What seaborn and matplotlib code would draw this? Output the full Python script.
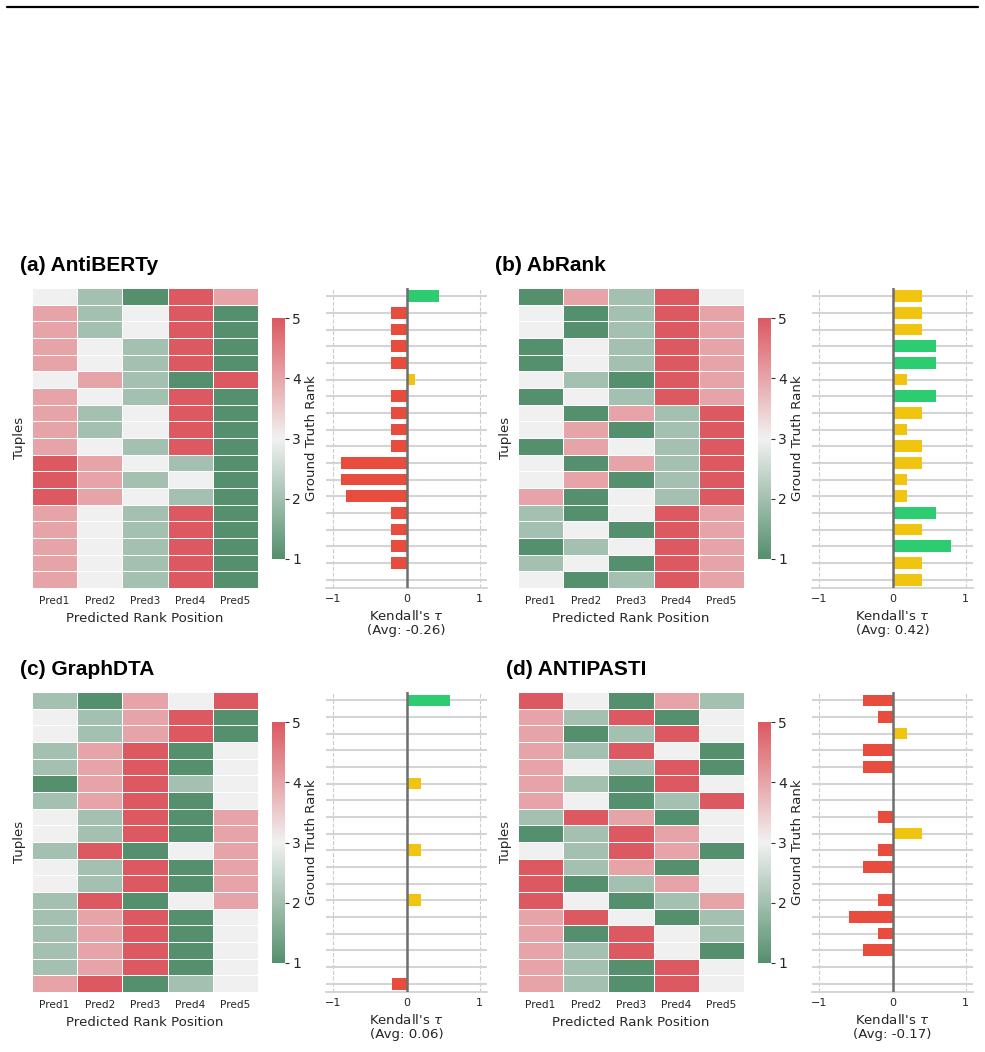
import numpy as np
import pandas as pd
import matplotlib.pyplot as plt
from matplotlib.lines import Line2D
import seaborn as sns

# ground-truth rank of the item placed at each predicted position (18 tuples x 5)
pred_labels = ["Pred1", "Pred2", "Pred3", "Pred4", "Pred5"]

antiberty_ranks = [
    [3, 2, 1, 5, 4], [4, 2, 3, 5, 1], [4, 2, 3, 5, 1], [4, 3, 2, 5, 1],
    [4, 3, 2, 5, 1], [3, 4, 2, 1, 5], [4, 3, 2, 5, 1], [4, 2, 3, 5, 1],
    [4, 2, 3, 5, 1], [4, 3, 2, 5, 1], [5, 4, 3, 2, 1], [5, 4, 2, 3, 1],
    [5, 4, 3, 2, 1], [4, 3, 2, 5, 1], [4, 3, 2, 5, 1], [4, 3, 2, 5, 1],
    [4, 3, 2, 5, 1], [4, 3, 2, 5, 1],
]
abrank_ranks = [
    [1, 4, 2, 5, 3], [3, 1, 2, 5, 4], [3, 1, 2, 5, 4], [1, 3, 2, 5, 4],
    [1, 3, 2, 5, 4], [3, 2, 1, 5, 4], [1, 3, 2, 5, 4], [3, 1, 4, 2, 5],
    [3, 4, 1, 2, 5], [1, 4, 3, 2, 5], [3, 1, 4, 2, 5], [3, 4, 1, 2, 5],
    [4, 1, 3, 2, 5], [2, 1, 3, 5, 4], [2, 3, 1, 5, 4], [1, 2, 3, 5, 4],
    [2, 3, 1, 5, 4], [3, 1, 2, 5, 4],
]
graphdta_ranks = [
    [2, 1, 4, 3, 5], [3, 2, 4, 5, 1], [3, 2, 4, 5, 1], [2, 4, 5, 1, 3],
    [2, 4, 5, 1, 3], [1, 4, 5, 2, 3], [2, 4, 5, 1, 3], [3, 2, 5, 1, 4],
    [3, 2, 5, 1, 4], [2, 5, 1, 3, 4], [3, 2, 5, 1, 4], [3, 2, 5, 1, 4],
    [2, 5, 1, 3, 4], [2, 4, 5, 1, 3], [2, 4, 5, 1, 3], [2, 4, 5, 1, 3],
    [2, 4, 5, 1, 3], [4, 5, 1, 2, 3],
]
antipasti_ranks = [
    [5, 3, 1, 4, 2], [4, 2, 5, 1, 3], [4, 1, 2, 5, 3], [4, 2, 5, 3, 1],
    [4, 3, 2, 5, 1], [4, 2, 1, 5, 3], [4, 3, 1, 2, 5], [2, 5, 4, 1, 3],
    [1, 2, 5, 4, 3], [3, 2, 5, 4, 1], [5, 2, 4, 1, 3], [5, 1, 2, 4, 3],
    [5, 3, 1, 2, 4], [4, 5, 3, 1, 2], [4, 1, 5, 3, 2], [4, 2, 5, 3, 1],
    [4, 2, 1, 5, 3], [4, 2, 1, 5, 3],
]

# Kendall's tau per tuple
antiberty_tau = [0.44, -0.21, -0.21, -0.21, -0.21, 0.11, -0.21, -0.21, -0.21,
                 -0.21, -0.89, -0.89, -0.83, -0.21, -0.21, -0.21, -0.21, 0.0]
abrank_tau = [0.4, 0.4, 0.4, 0.6, 0.6, 0.2, 0.6, 0.4, 0.2,
              0.4, 0.4, 0.2, 0.2, 0.6, 0.4, 0.8, 0.4, 0.4]
graphdta_tau = [0.6, 0.0, 0.0, 0.0, 0.0, 0.2, 0.0, 0.0, 0.0,
                0.2, 0.0, 0.0, 0.2, 0.0, 0.0, 0.0, 0.0, -0.2]
antipasti_tau = [-0.4, -0.2, 0.2, -0.4, -0.4, 0.0, 0.0, -0.2, 0.4,
                 -0.2, -0.4, 0.0, -0.2, -0.6, -0.2, -0.4, 0.0, 0.0]

titles = ["(a) AntiBERTy", "(b) AbRank", "(c) GraphDTA", "(d) ANTIPASTI"]
avg_labels = ["-0.26", "0.42", "0.06", "-0.17"]

sns.set_theme(style="whitegrid")
plt.rcParams["font.family"] = ["DejaVu Sans"]

W, H = 985, 1052
fig = plt.figure(figsize=(W / 100, H / 100), dpi=100)


def rect(x, y, w, h):
    # pixel box (from top-left) -> figure fraction
    return [x / W, 1 - (y + h) / H, w / W, h / H]


cmap = sns.blend_palette(["#548f6e", "#f1f1f1", "#dc5961"], as_cmap=True)

GREEN, YELLOW, RED = "#2ecc71", "#f1c40f", "#e74c3c"

panels = [
    (antiberty_ranks, antiberty_tau, 20, 32, 288),
    (abrank_ranks, abrank_tau, 495, 518, 288),
    (graphdta_ranks, graphdta_tau, 20, 32, 692),
    (antipasti_ranks, antipasti_tau, 506, 518, 692),
]

for i, (ranks, tau, tx, x0, y0) in enumerate(panels):
    # heatmap
    ax_h = fig.add_axes(rect(x0, y0, 226, 300))
    cax = fig.add_axes(rect(x0 + 240, y0 + 30, 13, 241))
    sns.heatmap(np.array(ranks), ax=ax_h, cbar_ax=cax, cmap=cmap, vmin=1, vmax=5,
                linewidths=0.6, linecolor="white", xticklabels=pred_labels,
                yticklabels=False, cbar_kws={"ticks": [1, 2, 3, 4, 5]})
    ax_h.set_xlabel("Predicted Rank Position", fontsize=9.6, color="#262626")
    ax_h.set_ylabel("Tuples", fontsize=9.6, color="#262626")
    ax_h.tick_params(axis="x", labelsize=7.6, colors="#262626", length=0, pad=6)
    cax.tick_params(labelsize=10, length=3, width=0.8, color="#333333", pad=2)
    cax.set_ylabel("Ground Truth Rank", fontsize=9.6, labelpad=3)

    # tau bars
    ax_b = fig.add_axes(rect(x0 + 294, y0, 161, 300))
    rows = [f"T{k + 1}" for k in range(len(tau))]
    colors = [GREEN if t > 0.42 else (YELLOW if t > 0 else RED) for t in tau]
    df = pd.DataFrame({"tau": tau, "row": rows})
    sns.barplot(data=df, x="tau", y="row", hue="row", palette=colors, orient="h",
                width=0.7, linewidth=0, saturation=1, legend=False, ax=ax_b)
    ax_b.set_xlim(-1.1, 1.1)
    ax_b.set_ylim(len(tau) - 0.5, -0.5)
    ax_b.set_xticks([-1, 0, 1])
    ax_b.set_yticklabels([])
    ax_b.set_ylabel("")
    ax_b.yaxis.grid(True, color="#d4d4d4", linewidth=1.5, linestyle="-")
    ax_b.xaxis.grid(True, color="#cccccc", linewidth=0.8, linestyle="--")
    ax_b.set_axisbelow(True)
    ax_b.axvline(0, color="#6e6e6e", linewidth=1.8, zorder=3)
    ax_b.tick_params(axis="x", labelsize=8, colors="#262626", length=0, pad=4)
    ax_b.tick_params(axis="y", length=0)
    sns.despine(ax=ax_b, left=True)
    ax_b.spines["bottom"].set_color("#d0d0d0")
    ax_b.set_xlabel(f"Kendall's $\\tau$\n(Avg: {avg_labels[i]})", fontsize=9.6,
                    color="#262626", linespacing=1.1)

    fig.text(tx / W, 1 - (y0 - 17) / H, titles[i], fontsize=15, fontweight="bold",
             color="black", family=["Liberation Sans", "DejaVu Sans"],
             ha="left", va="baseline")

# rule across the top of the page
fig.add_artist(Line2D([7 / W, 978 / W], [1 - 7 / H, 1 - 7 / H], color="black",
                      linewidth=1.6, transform=fig.transFigure))

fig.savefig("out.png", dpi=100)
